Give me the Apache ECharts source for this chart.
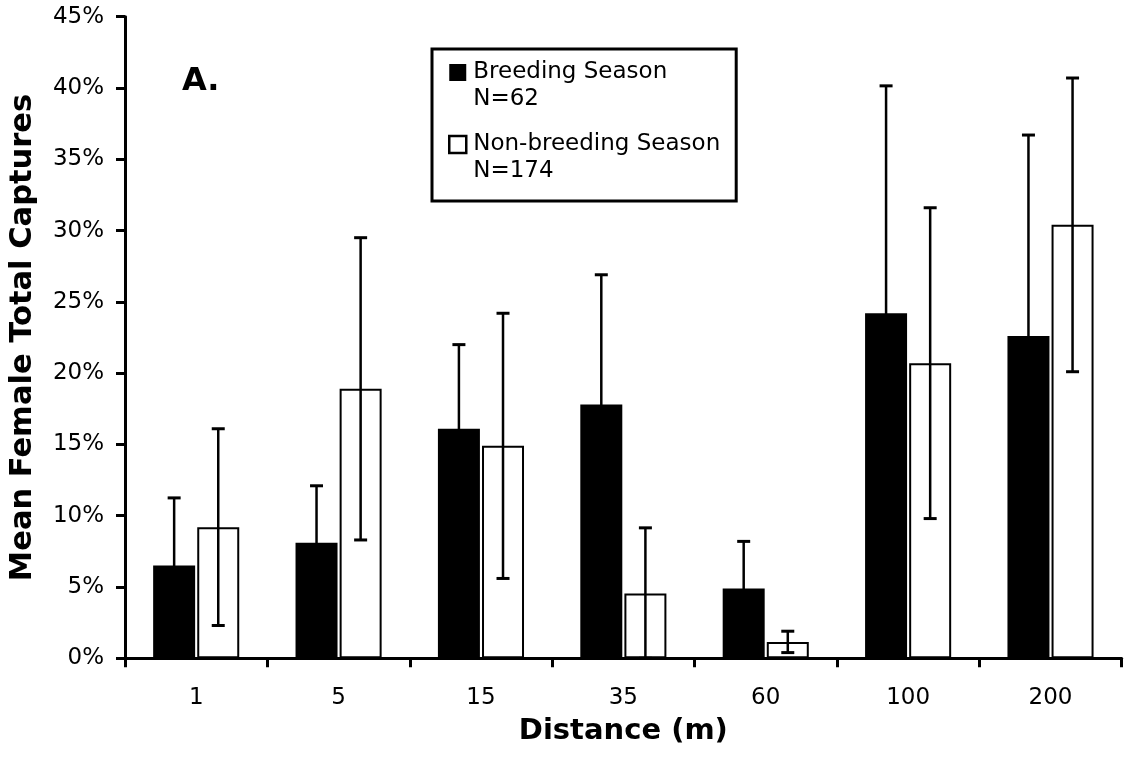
<!DOCTYPE html>
<html><head><meta charset="utf-8">
<script src="https://cdn.jsdelivr.net/npm/echarts@6/dist/echarts.min.js"></script>
<style>html,body{margin:0;padding:0;background:#fff}#c{width:1125px;height:757px}</style>
</head><body><div id="c"></div>
<script>
// ---- data (percent) ----
const categories = ['1', '5', '15', '35', '60', '100', '200'];
const breeding = [6.5, 8.1, 16.1, 17.8, 4.9, 24.2, 22.6];
const breedingErr = [4.75, 4.0, 5.9, 9.1, 3.3, 15.95, 14.1];
const nonBreeding = [9.2, 18.9, 14.9, 4.55, 1.15, 20.7, 30.4];
const nonBreedingErr = [6.9, 10.6, 9.3, 4.6, 0.75, 10.9, 10.3];
const seriesNames = ['Breeding Season', 'Non-breeding Season'];
const legendLabels = ['Breeding Season\nN=62', 'Non-breeding Season\nN=174'];
const panelLabel = 'A.';
const xTitle = 'Distance (m)';
const yTitle = 'Mean Female Total Captures';

const FONT = '"DejaVu Sans", Verdana, sans-serif';
const BAR_W = 42;
const GAP_PCT = 5;
const CAP = 13;

function errorSeries(name, vals, errs, side) {
  return {
    type: 'custom', name: name, silent: true, z: 10,
    data: vals.map((v, i) => [i, v, errs[i]]),
    encode: { x: 0, y: 1 },
    renderItem: function (params, api) {
      const i = api.value(0), v = api.value(1), e = api.value(2);
      const base = api.coord([i, v]);
      const x = base[0] + side * BAR_W * (1 + GAP_PCT / 100) / 2;
      const yTop = api.coord([i, v + e])[1];
      const yBot = api.coord([i, Math.max(0, v - e)])[1];
      const hw = CAP / 2;
      const st = { stroke: '#000', lineWidth: 2.5 };
      return { type: 'group', children: [
        { type: 'line', shape: { x1: x, y1: yTop, x2: x, y2: yBot }, style: st },
        { type: 'line', shape: { x1: x - hw, y1: yTop, x2: x + hw, y2: yTop }, style: { stroke: '#000', lineWidth: 3 } },
        { type: 'line', shape: { x1: x - hw, y1: yBot, x2: x + hw, y2: yBot }, style: { stroke: '#000', lineWidth: 3 } }
      ]};
    }
  };
}

const chart = echarts.init(document.getElementById('c'), null, { renderer: 'canvas' });
const iconPath = 'path://M0,0H17V17H0Z M0,44L0,44';
chart.setOption({
  animation: false,
  backgroundColor: '#fff',
  title: {
    text: panelLabel, left: 182, top: 66, padding: 0,
    textStyle: { fontFamily: FONT, fontSize: 32, fontWeight: 'bold', color: '#000' }
  },
  legend: {
    orient: 'vertical', left: 432, top: 49,
    padding: [10, 16, 16, 16], itemGap: 18,
    itemWidth: 17, itemHeight: 44,
    backgroundColor: '#fff', borderColor: '#000', borderWidth: 3,
    selectedMode: false,
    textStyle: { fontFamily: FONT, fontSize: 23, lineHeight: 27, color: '#000', padding: [0, 0, 0, 2] },
    data: [
      { name: seriesNames[0], icon: iconPath, itemStyle: { color: '#000', borderWidth: 0 } },
      { name: seriesNames[1], icon: iconPath, itemStyle: { color: '#fff', borderColor: '#000', borderWidth: 2.5 } }
    ],
    formatter: function (n) { return legendLabels[seriesNames.indexOf(n)]; }
  },
  grid: { left: 125, right: 3.3, top: 16.7, bottom: 98.7, containLabel: false },
  xAxis: {
    type: 'category', data: categories,
    name: xTitle, nameLocation: 'middle', nameGap: 59,
    nameTextStyle: { fontFamily: FONT, fontSize: 29, fontWeight: 'bold', color: '#000' },
    axisLine: { lineStyle: { color: '#000', width: 3 } },
    axisTick: { show: true, length: 9, lineStyle: { color: '#000', width: 3 } },
    axisLabel: { fontFamily: FONT, fontSize: 23, color: '#000', margin: 28 },
    splitLine: { show: false }
  },
  yAxis: {
    type: 'value', min: 0, max: 45, interval: 5,
    name: yTitle, nameLocation: 'middle', nameGap: 86,
    nameTextStyle: { fontFamily: FONT, fontSize: 30.5, fontWeight: 'bold', color: '#000' },
    axisLine: { show: true, lineStyle: { color: '#000', width: 3 } },
    axisTick: { show: true, length: 9, lineStyle: { color: '#000', width: 3 } },
    axisLabel: { fontFamily: FONT, fontSize: 23, color: '#000', margin: 21, formatter: '{value}%' },
    splitLine: { show: false }
  },
  series: [
    { type: 'bar', name: seriesNames[0], data: breeding, barWidth: BAR_W, barGap: GAP_PCT + '%',
      itemStyle: { color: '#000' } },
    { type: 'bar', name: seriesNames[1], data: nonBreeding, barWidth: BAR_W, barGap: GAP_PCT + '%',
      itemStyle: { color: '#fff', borderColor: '#000', borderWidth: 2 } },
    errorSeries('err-breeding', breeding, breedingErr, -1),
    errorSeries('err-nonbreeding', nonBreeding, nonBreedingErr, 1)
  ]
});
</script>
</body></html>
